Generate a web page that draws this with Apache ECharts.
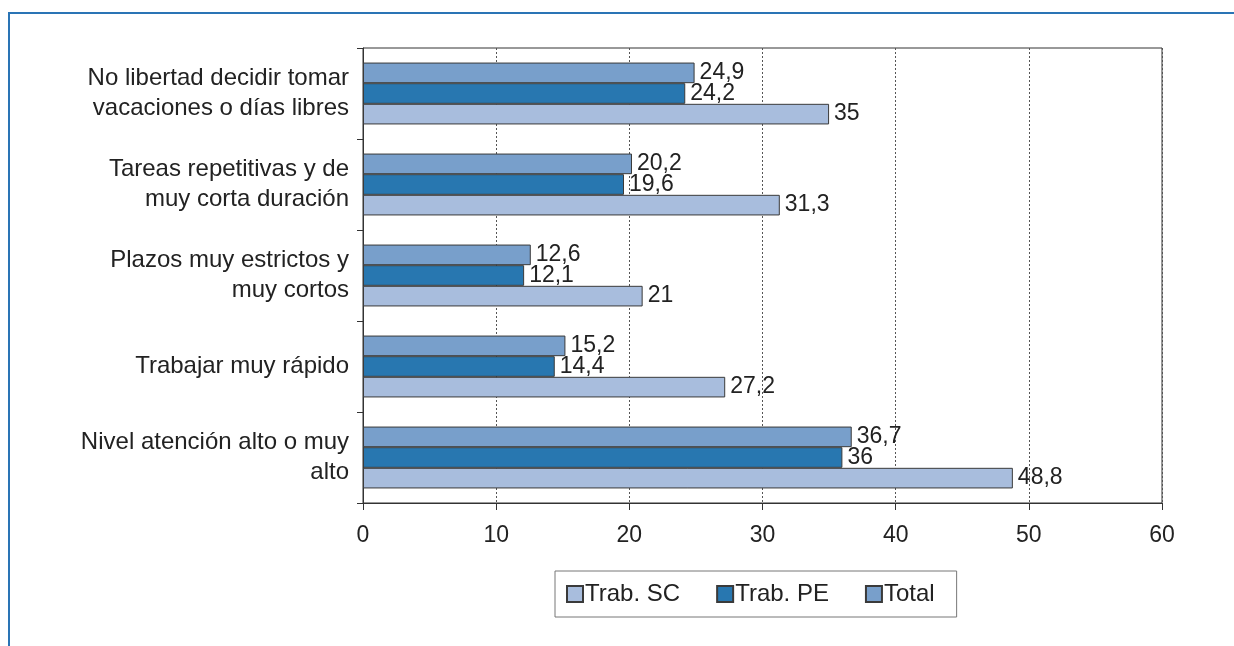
<!DOCTYPE html>
<html><head><meta charset="utf-8">
<script src="https://cdn.jsdelivr.net/npm/echarts@6/dist/echarts.min.js"></script>
<style>html,body{margin:0;padding:0;background:#fff}#c{width:1234px;height:646px}</style>
</head><body><div id="c"></div>
<script>
// categories from bottom to top
const categories = [
  "Nivel atención alto o muy\nalto",
  "Trabajar muy rápido",
  "Plazos muy estrictos y\nmuy cortos",
  "Tareas repetitivas y de\nmuy corta duración",
  "No libertad decidir tomar\nvacaciones o días libres"
];
const legendNames = ["Trab. SC", "Trab. PE", "Total"];
const trabSC = [48.8, 27.2, 21, 31.3, 35];
const trabPE = [36, 14.4, 12.1, 19.6, 24.2];
const total = [36.7, 15.2, 12.6, 20.2, 24.9];
const xTicks = [0, 10, 20, 30, 40, 50, 60];

const colorSC = "#a8bddd", colorPE = "#2877b0", colorTotal = "#789fcb";
const font = "'Liberation Sans', Arial, sans-serif";
const FS = 23;
const fmt = p => String(p.value).replace('.', ',');

function mk(name, data, color) {
  return {
    name, type: 'bar', data,
    barGap: '0%', barCategoryGap: '32%',
    itemStyle: { color, borderColor: '#3a3a3a', borderWidth: 1 },
    label: { show: true, position: 'right', distance: 5, formatter: fmt,
      color: '#222', fontSize: FS, fontFamily: font },
    emphasis: { disabled: true }
  };
}

const chart = echarts.init(document.getElementById('c'), null, { renderer: 'canvas' });
chart.setOption({
  animation: false,
  backgroundColor: '#fff',
  textStyle: { fontFamily: font },
  grid: { left: 363, top: 48, right: 72, bottom: 143, show: true, borderColor: '#333', borderWidth: 1 },
  legend: {
    data: legendNames, top: 571, left: 555,
    itemWidth: 16, itemHeight: 16, itemGap: 36,
    padding: [11, 22, 11, 11], borderColor: '#777', borderWidth: 1,
    textStyle: { fontSize: 24, color: '#222', fontFamily: font, padding: [0, 0, 0, -3] },
    icon: 'rect'
  },
  xAxis: {
    type: 'value', min: 0, max: 60, interval: 10,
    axisLine: { show: true, lineStyle: { color: '#333' } },
    axisTick: { show: true, length: 7, lineStyle: { color: '#333' } },
    axisLabel: { margin: 21, fontSize: FS, color: '#222', fontFamily: font,
      formatter: v => xTicks.includes(v) ? String(v) : '' },
    splitLine: { show: true, lineStyle: { color: '#555', type: [2, 2], width: 1 } }
  },
  yAxis: {
    type: 'category', data: categories,
    axisLine: { show: true, lineStyle: { color: '#333' } },
    axisTick: { show: true, length: 6, lineStyle: { color: '#333' } },
    axisLabel: { margin: 14, fontSize: 24, lineHeight: 30, color: '#222', fontFamily: font, align: 'right' }
  },
  graphic: [
    { type: 'line', shape: { x1: 9, y1: 13, x2: 1234, y2: 13 }, style: { stroke: '#2a74b5', lineWidth: 2 } },
    { type: 'line', shape: { x1: 9, y1: 12, x2: 9, y2: 646 }, style: { stroke: '#2a74b5', lineWidth: 2 } }
  ],
  series: [mk(legendNames[2], total, colorTotal), mk(legendNames[1], trabPE, colorPE), mk(legendNames[0], trabSC, colorSC)]
});
</script></body></html>
